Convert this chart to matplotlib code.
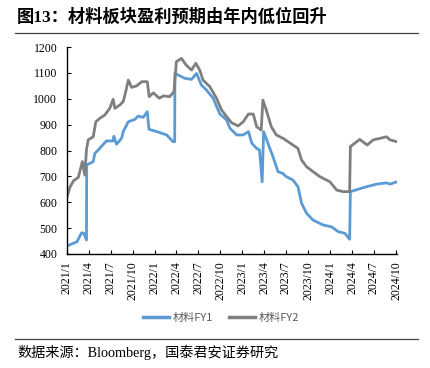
import matplotlib
matplotlib.use("Agg")
import matplotlib.pyplot as plt
import pandas as pd
from matplotlib.lines import Line2D

# 材料FY1 (blue)
fy1_dates = ["2021-01-01", "2021-02-11", "2021-03-03", "2021-03-12", "2021-03-23", "2021-03-24",
             "2021-04-20", "2021-04-27", "2021-05-17", "2021-06-14", "2021-07-12", "2021-07-15",
             "2021-07-26", "2021-08-16", "2021-08-23", "2021-09-13", "2021-10-10", "2021-10-24",
             "2021-11-14", "2021-12-01", "2021-12-08", "2022-01-10", "2022-02-20", "2022-03-18",
             "2022-03-25", "2022-03-26", "2022-04-08", "2022-05-06", "2022-06-03", "2022-06-24",
             "2022-07-14", "2022-08-04", "2022-09-01", "2022-09-29", "2022-10-27", "2022-11-10",
             "2022-12-08", "2023-01-03", "2023-01-26", "2023-02-09", "2023-03-01", "2023-03-13",
             "2023-03-24", "2023-03-30", "2023-04-17", "2023-05-08", "2023-05-29", "2023-06-17",
             "2023-07-02", "2023-07-30", "2023-08-20", "2023-09-04", "2023-09-25", "2023-10-22",
             "2023-12-03", "2024-01-07", "2024-02-04", "2024-03-02", "2024-03-22", "2024-03-25",
             "2024-04-26", "2024-05-31", "2024-07-12", "2024-08-23", "2024-09-06", "2024-10-05"]
fy1_vals = [431, 447, 482, 480, 454, 744,
            757, 789, 808, 837, 837, 855,
            824, 847, 873, 911, 920, 933,
            928, 950, 882, 873, 860, 834,
            834, 1098, 1092, 1079, 1075, 1098,
            1053, 1034, 1002, 941, 918, 886,
            860, 860, 873, 828, 808, 802,
            679, 873, 828, 776, 718, 712,
            699, 686, 660, 596, 557, 531,
            512, 505, 486, 480, 457, 641,
            650, 660, 670, 675, 670, 679]

# 材料FY2 (gray)
fy2_dates = ["2021-01-01", "2021-01-14", "2021-01-28", "2021-02-17", "2021-03-06", "2021-03-16",
             "2021-03-23", "2021-03-30", "2021-04-20", "2021-05-01", "2021-05-17", "2021-06-07",
             "2021-06-28", "2021-07-12", "2021-07-19", "2021-08-09", "2021-08-23", "2021-09-04",
             "2021-09-13", "2021-09-27", "2021-10-18", "2021-11-08", "2021-12-01", "2021-12-09",
             "2021-12-26", "2022-01-20", "2022-02-06", "2022-03-04", "2022-03-22", "2022-04-01",
             "2022-04-22", "2022-05-12", "2022-06-03", "2022-06-21", "2022-07-07", "2022-07-21",
             "2022-08-18", "2022-09-15", "2022-10-06", "2022-10-27", "2022-11-17", "2022-12-14",
             "2023-01-04", "2023-01-26", "2023-02-15", "2023-03-01", "2023-03-20", "2023-03-27",
             "2023-04-10", "2023-05-01", "2023-05-22", "2023-06-19", "2023-07-16", "2023-08-20",
             "2023-09-04", "2023-09-25", "2023-10-22", "2023-11-19", "2023-12-31", "2024-01-28",
             "2024-02-24", "2024-03-22", "2024-03-25", "2024-04-12", "2024-05-03", "2024-06-03",
             "2024-06-28", "2024-08-23", "2024-09-06", "2024-10-05"]
fy2_vals = [621, 660, 683, 696, 757, 705,
            802, 841, 853, 911, 924, 937,
            963, 998, 963, 976, 989, 1034,
            1072, 1044, 1050, 1066, 1066, 1008,
            1023, 1002, 1011, 1008, 1027, 1143,
            1156, 1130, 1111, 1137, 1111, 1072,
            1047, 1002, 957, 931, 907, 895,
            911, 941, 941, 892, 879, 995,
            957, 892, 860, 847, 830, 808,
            763, 737, 718, 699, 679, 647,
            641, 641, 815, 828, 843, 821,
            841, 853, 841, 834]

tick_dates = pd.date_range("2021-01-01", "2024-10-01", freq="3MS")
tick_labels = [f"{d.year}/{d.month}" for d in tick_dates]

serif = ["Liberation Serif", "Noto Sans CJK SC"]
cjk = ["Noto Sans CJK SC", "DejaVu Sans"]

fig = plt.figure(figsize=(4.30, 3.68), dpi=100)
ax = fig.add_axes([67/430, 1-254/368, 330/430, 207/368])

ax.plot(pd.to_datetime(fy1_dates), fy1_vals, color="#5B9BD5", lw=2.0, label="材料FY1")
ax.plot(pd.to_datetime(fy2_dates), fy2_vals, color="#7F7F7F", lw=2.0, label="材料FY2")

ax.set_ylim(400, 1200)
ax.set_yticks(range(400, 1201, 100))
ax.set_xlim(pd.Timestamp("2021-01-01"), pd.Timestamp("2024-10-05"))
ax.set_xticks(tick_dates)
ax.set_xticklabels(tick_labels, rotation=90, family=serif, fontsize=8.5)
for t in ax.get_yticklabels():
    t.set_family(serif)
    t.set_fontsize(8.5)
ax.tick_params(direction="in", length=3, width=0.8, color="black")
ax.tick_params(axis="y", pad=7)
ax.tick_params(axis="x", pad=5)
ax.spines["top"].set_visible(False)
ax.spines["right"].set_visible(False)
ax.spines["left"].set_linewidth(1)
ax.spines["bottom"].set_linewidth(1)

handles = [Line2D([], [], color="#5B9BD5", lw=2.5), Line2D([], [], color="#7F7F7F", lw=2.5)]
fig.legend(handles, ["材料FY1", "材料FY2"], loc="center", bbox_to_anchor=(0.514, 1-318/368),
           ncol=2, frameon=False, prop={"family": cjk, "size": 8}, labelcolor="#595959",
           handlelength=2.4, handletextpad=0.3, columnspacing=1.4)

# title and source
fig.text(17/430, 1-17/368, "图13：材料板块盈利预期由年内低位回升", family=serif, fontsize=12.4,
         fontweight="bold", va="center", ha="left")
fig.add_artist(Line2D([15/430, 418/430], [1-33/368, 1-33/368], color="#404040", lw=0.9))
fig.add_artist(Line2D([15/430, 418/430], [1-339/368, 1-339/368], color="#404040", lw=0.9))
fig.text(17/430, 1-352/368, "数据来源：Bloomberg，国泰君安证券研究", family=serif, fontsize=10.2,
         va="center", ha="left")

fig.savefig("out.png", dpi=100)
